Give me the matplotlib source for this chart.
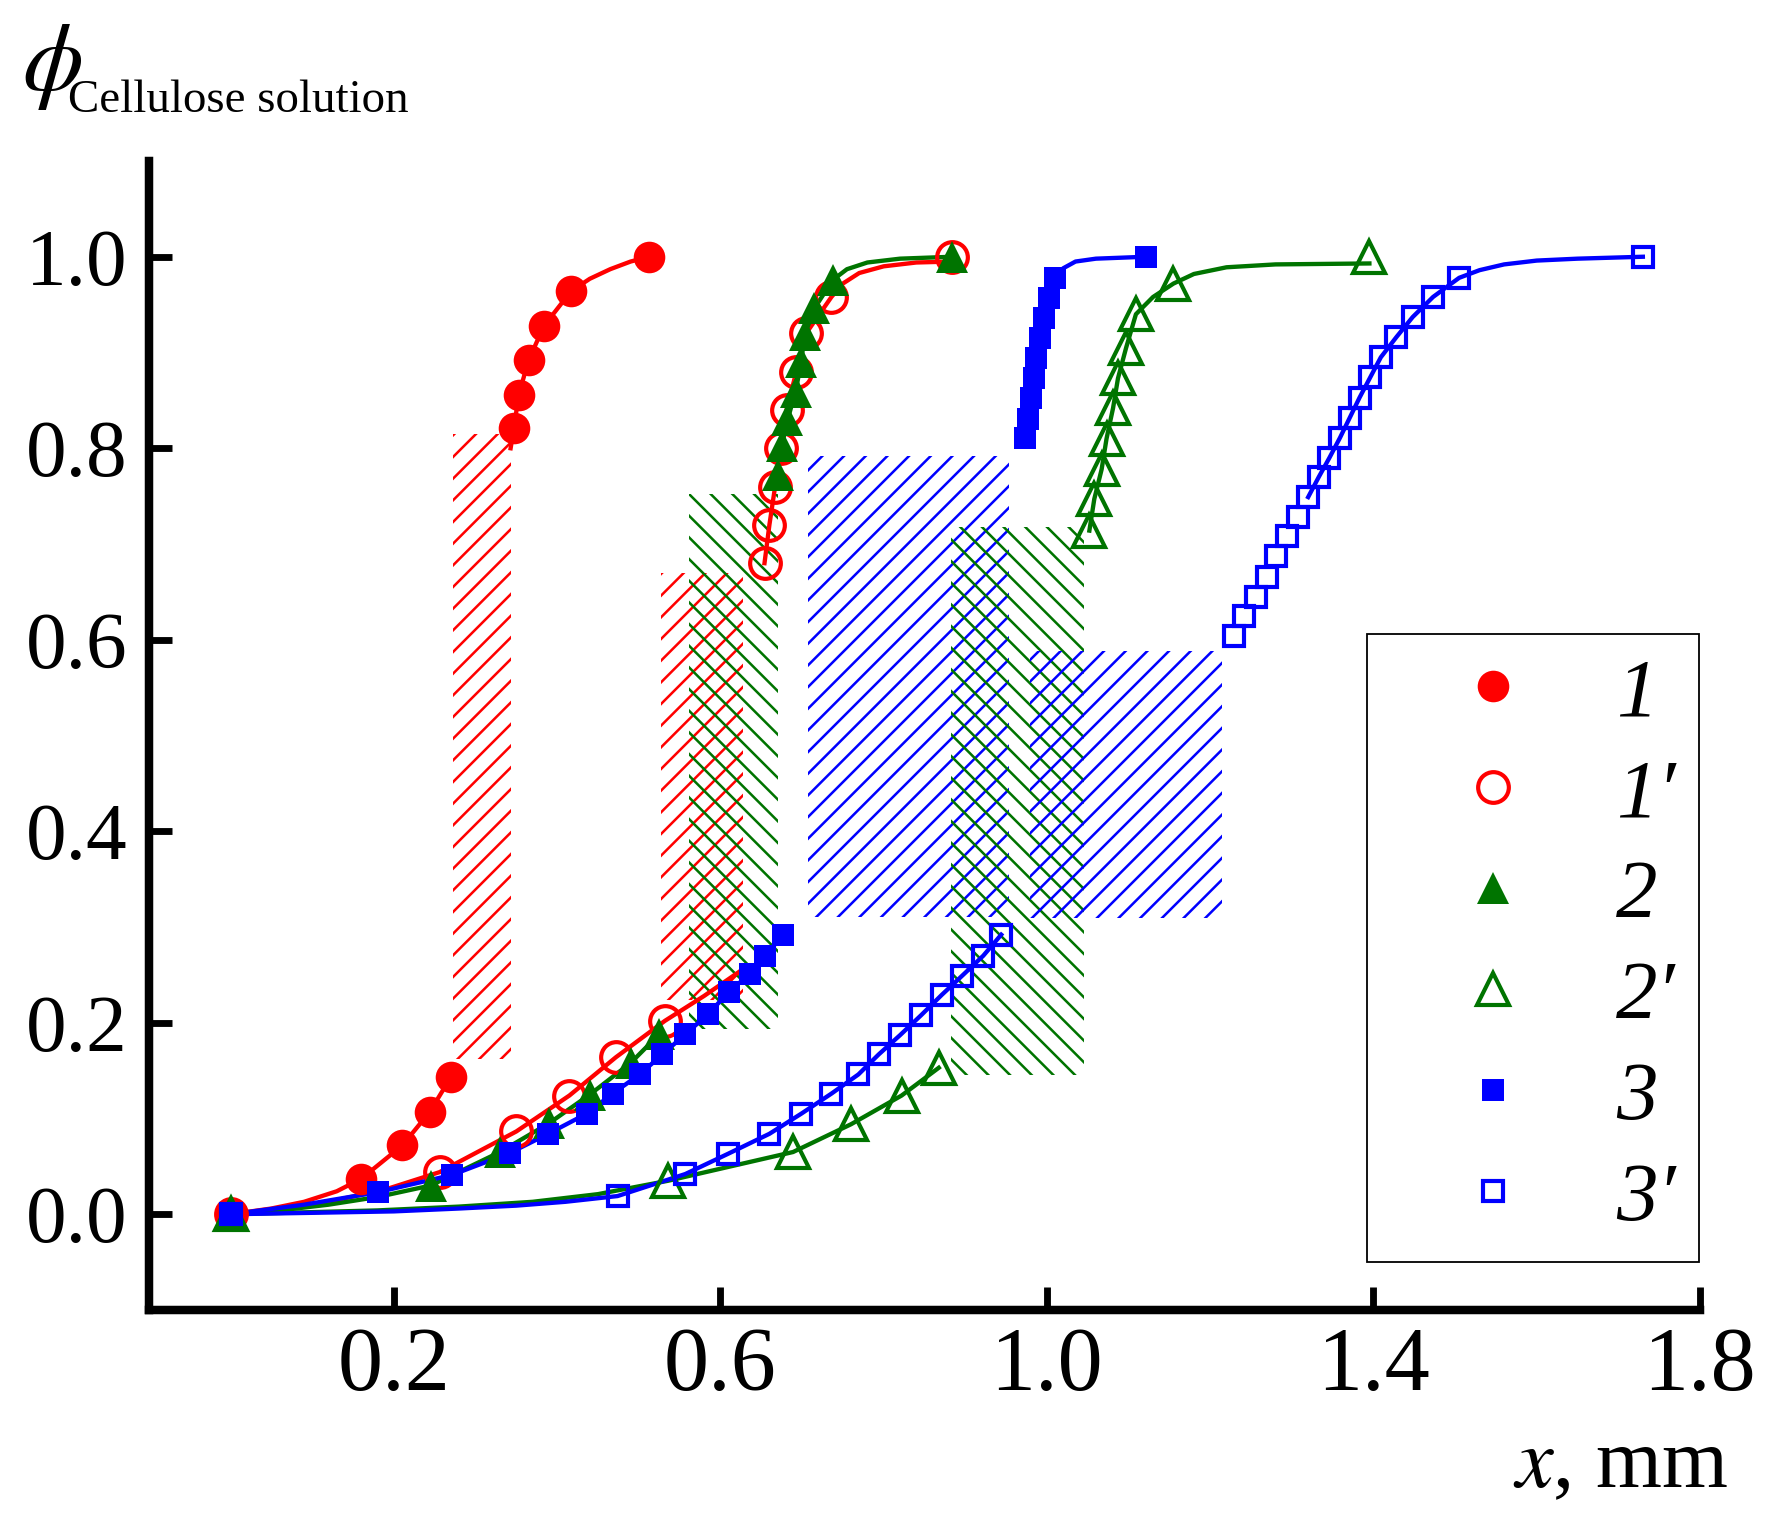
import matplotlib
matplotlib.use('Agg')
import matplotlib.pyplot as plt
from matplotlib.patches import Rectangle
from matplotlib.lines import Line2D
import numpy as np

#%% data (x in mm, phi)

# curve 1 : filled red circles
s1_x = [0.0, 0.160, 0.2105, 0.244, 0.270, 0.347, 0.353, 0.365, 0.384, 0.417, 0.513]
s1_y = [0.0, 0.037, 0.072, 0.107, 0.1435, 0.821, 0.856, 0.892, 0.928, 0.964, 1.0]
c1_x = [0.0, 0.05, 0.09, 0.13, 0.160, 0.2105, 0.244, 0.270, np.nan, 0.343, 0.347, 0.353, 0.365, 0.384, 0.417, 0.44, 0.465, 0.49, 0.513]
c1_y = [0.0, 0.006, 0.013, 0.024, 0.037, 0.072, 0.107, 0.1435, np.nan, 0.80, 0.821, 0.856, 0.892, 0.928, 0.964, 0.977, 0.987, 0.995, 1.0]

# curve 1' : open red circles
s1p_x = [0.0, 0.256, 0.350, 0.415, 0.472, 0.532, 0.654, 0.660, 0.667, 0.674, 0.681, 0.693, 0.705, 0.736, 0.884]
s1p_y = [0.0, 0.044, 0.0865, 0.124, 0.164, 0.202, 0.680, 0.720, 0.760, 0.800, 0.840, 0.880, 0.920, 0.958, 1.0]
c1p_x = [0.0, 0.06, 0.12, 0.19, 0.256, 0.350, 0.415, 0.472, 0.532, 0.58, 0.626, np.nan,
         0.654, 0.660, 0.667, 0.674, 0.681, 0.693, 0.705, 0.736, 0.75, 0.77, 0.80, 0.84, 0.884]
c1p_y = [0.0, 0.005, 0.013, 0.026, 0.044, 0.0865, 0.124, 0.164, 0.202, 0.228, 0.255, np.nan,
         0.680, 0.720, 0.760, 0.800, 0.840, 0.880, 0.920, 0.958, 0.972, 0.983, 0.990, 0.994, 0.995]

# curve 2 : filled green triangles
s2_x = [0.0, 0.245, 0.33, 0.39, 0.44, 0.49, 0.525, 0.670, 0.675, 0.682, 0.692, 0.699, 0.703, 0.715, 0.738, 0.884]
s2_y = [0.0, 0.03, 0.065, 0.095, 0.125, 0.158, 0.188, 0.772, 0.802, 0.829, 0.859, 0.890, 0.918, 0.946, 0.976, 1.0]
c2_x = [0.0, 0.06, 0.12, 0.18, 0.245, 0.33, 0.39, 0.44, 0.49, 0.525, np.nan,
        0.670, 0.675, 0.682, 0.692, 0.699, 0.703, 0.715, 0.738, 0.755, 0.78, 0.82, 0.884]
c2_y = [0.0, 0.004, 0.01, 0.018, 0.03, 0.065, 0.095, 0.125, 0.158, 0.188, np.nan,
        0.772, 0.802, 0.829, 0.859, 0.890, 0.918, 0.946, 0.976, 0.987, 0.994, 0.998, 1.0]

# curve 2' : open green triangles
s2p_x = [0.0, 0.536, 0.689, 0.760, 0.822, 0.8675, 1.052, 1.058, 1.067, 1.073, 1.081, 1.087, 1.097, 1.109, 1.155, 1.395]
s2p_y = [0.0, 0.035, 0.065, 0.094, 0.124, 0.153, 0.714, 0.747, 0.778, 0.810, 0.842, 0.873, 0.905, 0.940, 0.972, 1.0]
c2p_x = [0.0, 0.18, 0.28, 0.37, 0.45, 0.536, 0.689, 0.760, 0.822, 0.8675, np.nan,
         1.052, 1.058, 1.067, 1.073, 1.081, 1.087, 1.097, 1.109, 1.13, 1.155, 1.18, 1.22, 1.28, 1.395]
c2p_y = [0.0, 0.004, 0.008, 0.013, 0.021, 0.035, 0.065, 0.094, 0.124, 0.153, np.nan,
         0.714, 0.747, 0.778, 0.810, 0.842, 0.873, 0.905, 0.940, 0.958, 0.972, 0.982, 0.989, 0.992, 0.993]

# curve 3 : filled blue squares
s3_x = [0.0, 0.180, 0.271, 0.342, 0.389, 0.436, 0.468, 0.501, 0.529, 0.557, 0.585, 0.610, 0.636, 0.655, 0.677,
        0.973, 0.977, 0.981, 0.984, 0.987, 0.991, 0.997, 1.003, 1.010, 1.121]
s3_y = [0.0, 0.023, 0.041, 0.064, 0.084, 0.105, 0.126, 0.146, 0.167, 0.188, 0.209, 0.232, 0.251, 0.270, 0.292,
        0.811, 0.831, 0.852, 0.873, 0.894, 0.915, 0.936, 0.957, 0.978, 1.0]
c3_x = [0.0, 0.09, 0.180, 0.271, 0.342, 0.389, 0.436, 0.468, 0.501, 0.529, 0.557, 0.585, 0.610, 0.636, 0.655, 0.677, np.nan,
        0.973, 0.977, 0.981, 0.984, 0.987, 0.991, 0.997, 1.003, 1.010, 1.02, 1.035, 1.06, 1.121]
c3_y = [0.0, 0.010, 0.023, 0.041, 0.064, 0.084, 0.105, 0.126, 0.146, 0.167, 0.188, 0.209, 0.232, 0.251, 0.270, 0.292, np.nan,
        0.811, 0.831, 0.852, 0.873, 0.894, 0.915, 0.936, 0.957, 0.978, 0.988, 0.995, 0.998, 1.0]

# curve 3' : open blue squares
s3p_x = [0.0, 0.474, 0.557, 0.609, 0.660, 0.699, 0.736, 0.769, 0.794, 0.820, 0.846, 0.871, 0.896, 0.922, 0.944,
         1.229, 1.242, 1.256, 1.269, 1.281, 1.294, 1.308, 1.320, 1.333, 1.346, 1.359, 1.371, 1.383, 1.396, 1.409,
         1.428, 1.448, 1.473, 1.505, 1.730]
s3p_y = [0.0, 0.019, 0.042, 0.063, 0.084, 0.105, 0.126, 0.146, 0.167, 0.187, 0.208, 0.229, 0.249, 0.270, 0.292,
         0.604, 0.625, 0.645, 0.666, 0.687, 0.708, 0.728, 0.749, 0.770, 0.790, 0.811, 0.832, 0.853, 0.874, 0.895,
         0.916, 0.937, 0.958, 0.978, 1.0]
c3p_x = [0.0, 0.2, 0.28, 0.35, 0.41, 0.474, 0.557, 0.609, 0.660, 0.699, 0.736, 0.769, 0.794, 0.820, 0.846, 0.871, 0.896, 0.922, 0.944, np.nan,
         1.320, 1.333, 1.346, 1.359, 1.371, 1.383, 1.396, 1.409, 1.428, 1.448, 1.473, 1.505, 1.53, 1.56, 1.60, 1.65, 1.730]
c3p_y = [0.0, 0.003, 0.006, 0.009, 0.013, 0.019, 0.042, 0.063, 0.084, 0.105, 0.126, 0.146, 0.167, 0.187, 0.208, 0.229, 0.249, 0.270, 0.292, np.nan,
         0.749, 0.770, 0.790, 0.811, 0.832, 0.853, 0.874, 0.895, 0.916, 0.937, 0.958, 0.978, 0.986, 0.992, 0.996, 0.998, 1.0]

# hatched zones: x0, x1, y0, y1 and the curve they belong to
zone_x0 = [0.273, 0.527, 0.562, 0.707, 0.882, 0.979]
zone_x1 = [0.344, 0.628, 0.670, 0.954, 1.046, 1.215]
zone_y0 = [0.162, 0.224, 0.193, 0.310, 0.145, 0.309]
zone_y1 = [0.815, 0.670, 0.752, 0.792, 0.718, 0.588]
zone_of = ['1', '1p', '2', '3', '2p', '3p']

labels = ['1', '1\u2032', '2', '2\u2032', '3', '3\u2032']

#%% styles
RED = '#ff0000'
GREEN = '#007400'
BLUE = '#0000ff'

zone_col = {'1': RED, '1p': RED, '2': GREEN, '2p': GREEN, '3': BLUE, '3p': BLUE}
zone_hatch = {'1': '//', '1p': '//', '2': '\\\\', '2p': '\\\\', '3': '//', '3p': '//'}

series = [
    (s1_x, s1_y, c1_x, c1_y, dict(marker='o', ms=17.5, mfc=RED, mec=RED, mew=0), RED),
    (s1p_x, s1p_y, c1p_x, c1p_y, dict(marker='o', ms=17, mfc='none', mec=RED, mew=2.3), RED),
    (s2_x, s2_y, c2_x, c2_y, dict(marker='^', ms=18, mfc=GREEN, mec=GREEN, mew=0), GREEN),
    (s2p_x, s2p_y, c2p_x, c2p_y, dict(marker='^', ms=17.5, mfc='none', mec=GREEN, mew=2.3), GREEN),
    (s3_x, s3_y, c3_x, c3_y, dict(marker='s', ms=12.5, mfc=BLUE, mec=BLUE, mew=0), BLUE),
    (s3p_x, s3p_y, c3p_x, c3p_y, dict(marker='s', ms=11.5, mfc='none', mec=BLUE, mew=2.3), BLUE),
]

plt.rcParams['font.family'] = 'Liberation Serif'
plt.rcParams['mathtext.fontset'] = 'stix'
plt.rcParams['hatch.linewidth'] = 1.4

DPI = 130
W, H = 1765, 1520
fig = plt.figure(figsize=(W / DPI, H / DPI), dpi=DPI)
ax = fig.add_axes([149 / W, 1 - 1310 / H, 1551 / W, 1149 / H])

#%% hatched zones
for x0, x1, y0, y1, k in zip(zone_x0, zone_x1, zone_y0, zone_y1, zone_of):
    ax.add_patch(Rectangle((x0, y0), x1 - x0, y1 - y0, facecolor='none',
                           edgecolor=zone_col[k], linewidth=0, hatch=zone_hatch[k], zorder=1))

#%% curves and points
handles = []
for sx, sy, cx, cy, mk, col in series:
    ax.plot(cx, cy, color=col, lw=2.4, zorder=2, solid_joinstyle='round')
    ax.plot(sx, sy, ls='none', zorder=3, **mk)
    handles.append(Line2D([], [], ls='none', **mk))

#%% axes
ax.set_xlim(-0.1, 1.8)
ax.set_ylim(-0.1, 1.1)
ax.set_xticks([0.2, 0.6, 1.0, 1.4, 1.8])
ax.set_xticklabels(['0.2', '0.6', '1.0', '1.4', '1.8'])
ax.set_yticks([0.0, 0.2, 0.4, 0.6, 0.8, 1.0])
ax.set_yticklabels(['0.0', '0.2', '0.4', '0.6', '0.8', '1.0'])
for s in ['top', 'right']:
    ax.spines[s].set_visible(False)
for s in ['left', 'bottom']:
    ax.spines[s].set_linewidth(4.7)
ax.tick_params(direction='in', length=12.5, width=3.8)
ax.tick_params(axis='x', labelsize=50, pad=9)
ax.tick_params(axis='y', labelsize=45, pad=12)

fig.text(22 / W, 1 - 90 / H, r'$\phi$', fontsize=54, ha='left', va='baseline')
fig.text(68 / W, 1 - 111.7 / H, 'Cellulose solution', fontsize=26, ha='left', va='baseline')
fig.text(1728 / W, 1 - 1487 / H, r'$x$, mm', fontsize=47, ha='right', va='baseline')

leg = ax.legend(handles, labels, loc='upper left', bbox_to_anchor=(1367 / W, 1 - 633.7 / H),
                bbox_transform=fig.transFigure,
                prop={'family': 'Liberation Serif', 'style': 'italic', 'size': 46},
                frameon=True, fancybox=False, edgecolor='black', framealpha=1,
                borderpad=0.28, handlelength=2.48, handletextpad=0.24, labelspacing=0.30,
                borderaxespad=0)
leg.get_frame().set_linewidth(1.0)
leg.set_zorder(5)

fig.savefig('out.png', dpi=DPI)
